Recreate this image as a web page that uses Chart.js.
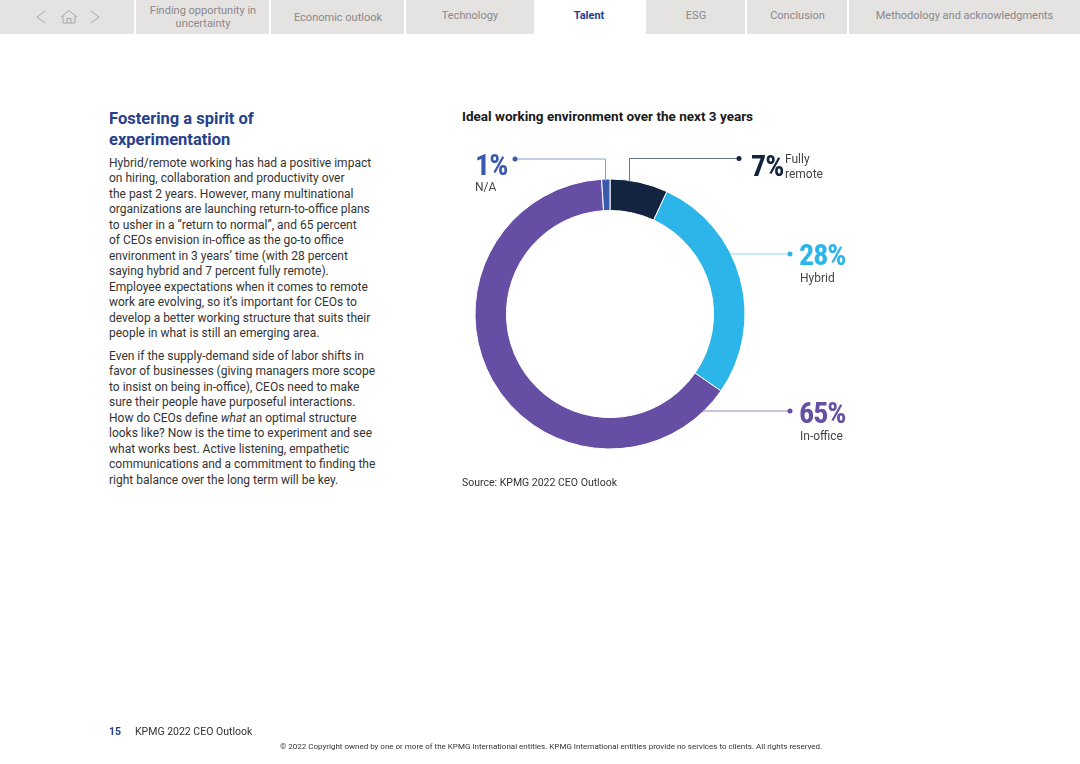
<!DOCTYPE html>
<html><head><meta charset="utf-8">
<script src="https://cdn.jsdelivr.net/npm/chart.js@4/dist/chart.umd.min.js"></script>
<style>
html,body{margin:0;padding:0;background:#fff;width:1080px;height:764px;overflow:hidden;font-family:Roboto,sans-serif;color:#333}
.t{position:absolute;white-space:nowrap}
#nav{position:absolute;left:0;top:0;width:1080px;height:34px;background:#e5e2e2}
.tab{position:absolute;top:0;height:34px;display:flex;align-items:center;justify-content:center;text-align:center;font-size:11px;line-height:13px;color:#8b8888;border-left:2px solid #fff;box-sizing:border-box}
.tab.on{background:#fff;color:#1e3d8f;font-weight:700;border:none;padding-bottom:4px}
.body{font-size:12px;line-height:15.45px;color:#333;left:109px}
.big{font-family:"Liberation Sans Narrow","Roboto Condensed",Roboto,sans-serif;font-weight:700;font-size:30px;line-height:30px;letter-spacing:-1px}
.lab{font-size:12px;line-height:15px;color:#444}
#wrap{position:absolute;left:470px;top:174px;width:280px;height:280px}
</style></head><body>
<div id="nav">
<svg style="position:absolute;left:34px;top:8px" width="70" height="18" fill="none" stroke="#a9a6a6" stroke-width="1">
<path d="M11 3 L3 9 L11 15"/><path d="M27 9 L35 2.5 L43 9 M29 8 V15 H41 V8 M33 15 V10.5 H37 V15"/><path d="M57 3 L65 9 L57 15"/></svg>
<div class="tab" style="left:134px;width:136px">Finding opportunity in<br>uncertainty</div>
<div class="tab" style="left:269px;width:136px">Economic outlook</div>
<div class="tab" style="left:404px;width:130px;padding-bottom:4px">Technology</div>
<div class="tab on" style="left:534px;width:110px">Talent</div>
<div class="tab" style="left:644px;width:102px;padding-bottom:4px">ESG</div>
<div class="tab" style="left:745px;width:103px;padding-bottom:4px">Conclusion</div>
<div class="tab" style="left:847px;width:233px;padding-bottom:4px">Methodology and acknowledgments</div>
</div>

<div class="t" style="left:109px;top:108px;font-size:16.5px;line-height:21px;font-weight:700;color:#27408b">Fostering a spirit of<br>experimentation</div>
<div class="t body" style="top:156px">Hybrid/remote working has had a positive impact<br>on hiring, collaboration and productivity over<br>the past 2 years. However, many multinational<br>organizations are launching return-to-office plans<br>to usher in a “return to normal”, and 65 percent<br>of CEOs envision in-office as the go-to office<br>environment in 3 years’ time (with 28 percent<br>saying hybrid and 7 percent fully remote).<br>Employee expectations when it comes to remote<br>work are evolving, so it’s important for CEOs to<br>develop a better working structure that suits their<br>people in what is still an emerging area.</div>
<div class="t body" style="top:349px">Even if the supply-demand side of labor shifts in<br>favor of businesses (giving managers more scope<br>to insist on being in-office), CEOs need to make<br>sure their people have purposeful interactions.<br>How do CEOs define <i>what</i> an optimal structure<br>looks like? Now is the time to experiment and see<br>what works best. Active listening, empathetic<br>communications and a commitment to finding the<br>right balance over the long term will be key.</div>

<div class="t" style="left:462px;top:108px;font-size:13.5px;font-weight:700;color:#1a1a1a">Ideal working environment over the next 3 years</div>
<div id="wrap"><canvas id="c" width="280" height="280"></canvas></div>

<svg style="position:absolute;left:0;top:0" width="1080" height="764" fill="none">
<path d="M515 159 H605.500 V181" stroke="#8a9ccf"/><circle cx="515" cy="159" r="2.500" fill="#3a5bab"/>
<path d="M739 158.500 H629.500 V182" stroke="#6a7480"/><circle cx="739" cy="158.500" r="2.500" fill="#12243f"/>
<path d="M730 254 H790" stroke="#8fd8f2"/><circle cx="790" cy="254" r="2.500" fill="#2cb5e9"/>
<path d="M702 411 H790" stroke="#9c86bd"/><circle cx="790" cy="411" r="2.500" fill="#654ea3"/>
</svg>

<div class="t big" style="left:475px;top:150px;color:#3a5bab">1%</div>
<div class="t lab" style="left:475px;top:180px">N/A</div>
<div class="t big" style="left:751px;top:151px;color:#12243f">7%</div>
<div class="t lab" style="left:785px;top:152px">Fully<br>remote</div>
<div class="t big" style="left:799px;top:240px;color:#2cb5e9">28%</div>
<div class="t lab" style="left:800px;top:271px">Hybrid</div>
<div class="t big" style="left:799px;top:398px;color:#654ea3">65%</div>
<div class="t lab" style="left:800px;top:429px">In-office</div>

<div class="t" style="left:462px;top:476px;font-size:10.5px;color:#333">Source: KPMG 2022 CEO Outlook</div>
<div class="t" style="left:109px;top:725px;font-size:10.5px;font-weight:700;color:#27408b">15</div>
<div class="t" style="left:135px;top:725px;font-size:10.5px;color:#333">KPMG 2022 CEO Outlook</div>
<div class="t" style="left:280px;top:742px;font-size:8px;color:#333">© 2022 Copyright owned by one or more of the KPMG International entities. KPMG International entities provide no services to clients. All rights reserved.</div>

<script>
const categories = ["Fully remote", "Hybrid", "In-office", "N/A"];
const shares = [7, 28, 65, 1];
const sliceColors = ["#12243f", "#2cb5e9", "#654ea3", "#3a5bab"];
new Chart(document.getElementById("c"), {
  type: "doughnut",
  data: { labels: categories, datasets: [{ data: shares, backgroundColor: sliceColors, borderColor: "#ffffff", borderWidth: 1 }] },
  options: {
    responsive: false, animation: false, radius: 135, cutout: 107,
    layout: { padding: 0 },
    plugins: { legend: { display: false }, tooltip: { enabled: false }, title: { display: false } }
  }
});
</script>
</body></html>
